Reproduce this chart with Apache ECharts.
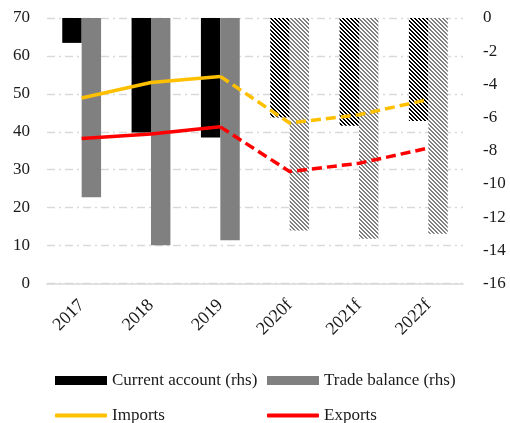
<!DOCTYPE html>
<html><head><meta charset="utf-8">
<script src="https://cdn.jsdelivr.net/npm/echarts@6/dist/echarts.min.js"></script>
<style>html,body{margin:0;padding:0;background:#fff}#c{width:510px;height:423px}</style>
</head><body><div id="c"></div>
<script>
var categories = ['2017','2018','2019','2020f','2021f','2022f'];
var currentAccount = [-1.5, -6.9, -7.2, -6.0, -6.5, -6.2];
var tradeBalance = [-10.8, -13.7, -13.4, -12.8, -13.3, -13.0];
var imports = [48.9, 53.0, 54.6, 42.3, 44.5, 48.5];
var exports = [38.2, 39.4, 41.3, 29.5, 31.7, 35.7];
var leftTicks = [0, 70, 10];
var rightTicks = [-16, 0, 2];

var FONT = 'Liberation Serif';
function hatch(color){
  var c = document.createElement('canvas'); c.width = 4; c.height = 4;
  var g = c.getContext('2d'); g.fillStyle = '#fff'; g.fillRect(0,0,4,4);
  g.fillStyle = color;
  for (var y=0;y<4;y++) for (var x=0;x<4;x++){ var d=((x-y)%4+4)%4; if(d<2) g.fillRect(x,y,1,1); }
  return {image: c, repeat: 'repeat'};
}
function barData(vals, color){
  return vals.map(function(v,i){
    var o = {value: v};
    if (/f$/.test(categories[i])) o.itemStyle = {color: hatch(color)};
    return o;
  });
}
var lastActual = 2;
function solidPart(v){ return v.map(function(x,i){ return i<=lastActual?x:null; }); }
function dashPart(v){ return v.map(function(x,i){ return i>=lastActual?x:null; }); }

var chart = echarts.init(document.getElementById('c'));
var txt = {fontFamily: FONT, fontSize: 17, color: '#1a1a1a'};
function lg(name, left, top, icon, h){
  return {data:[name], left:left, top:top, icon:icon, itemWidth:52, itemHeight:h, itemGap:0,
    textStyle:{fontFamily:FONT, fontSize:17, color:'#1a1a1a', padding:[0,0,0,0]}, selectedMode:false};
}
chart.setOption({
  animation:false,
  grid:{left:47, right:47, top:18, bottom:139.5},
  legend:[
    lg('Current account (rhs)', 50, 367, 'rect', 9),
    lg('Trade balance (rhs)', 262, 367, 'rect', 9),
    lg('Imports', 50, 402, 'roundRect', 4),
    lg('Exports', 262, 402, 'roundRect', 4)
  ],
  xAxis:{type:'category', data:categories,
    axisLine:{lineStyle:{color:'#d9d9d9', width:1.5}}, axisTick:{show:false},
    axisLabel:Object.assign({}, txt, {rotate:45, margin:19, interval:0, fontSize:18})},
  yAxis:[
    {type:'value', min:leftTicks[0], max:leftTicks[1], interval:leftTicks[2],
     axisLine:{show:false}, axisTick:{show:false},
     axisLabel:Object.assign({margin:17}, txt),
     splitLine:{lineStyle:{color:'#d9d9d9', width:1.3, type:[8,4,2,4]}}},
    {type:'value', min:rightTicks[0], max:rightTicks[1], interval:rightTicks[2],
     axisLine:{show:false}, axisTick:{show:false},
     axisLabel:Object.assign({margin:20}, txt), splitLine:{show:false}}
  ],
  series:[
    {name:'Current account (rhs)', type:'bar', yAxisIndex:1, data:barData(currentAccount,'#000'),
     itemStyle:{color:'#000'}, barWidth:'28%', barGap:'0%'},
    {name:'Trade balance (rhs)', type:'bar', yAxisIndex:1, data:barData(tradeBalance,'#808080'),
     itemStyle:{color:'#808080'}, barWidth:'28%', barGap:'0%'},
    {name:'Imports', type:'line', data:solidPart(imports), symbol:'none', lineStyle:{color:'#FFC000', width:3.5}, itemStyle:{color:'#FFC000'}},
    {name:'Imports', type:'line', data:dashPart(imports), symbol:'none', lineStyle:{color:'#FFC000', width:3.5, type:[10,5]}, itemStyle:{color:'#FFC000'}},
    {name:'Exports', type:'line', data:solidPart(exports), symbol:'none', lineStyle:{color:'#FF0000', width:3.5}, itemStyle:{color:'#FF0000'}},
    {name:'Exports', type:'line', data:dashPart(exports), symbol:'none', lineStyle:{color:'#FF0000', width:3.5, type:[10,5]}, itemStyle:{color:'#FF0000'}}
  ]
});
</script></body></html>
